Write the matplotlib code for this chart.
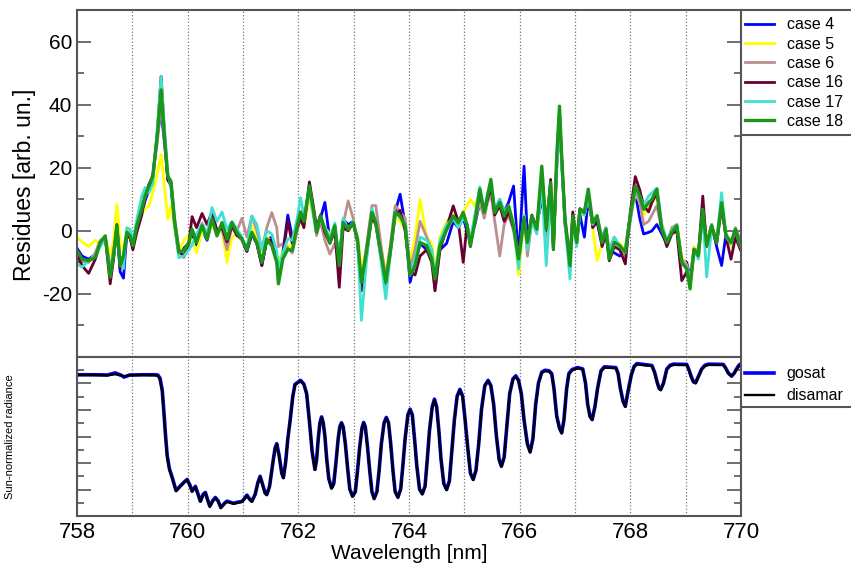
import numpy as np
import matplotlib
matplotlib.use("Agg")
import matplotlib.pyplot as plt
from matplotlib.lines import Line2D

plt.rcParams['font.family'] = ['Liberation Sans', 'DejaVu Sans']
plt.rcParams['axes.unicode_minus'] = False

# wavelength grid of the residues [nm]
wl = [758.00, 758.09, 758.21, 758.33, 758.42, 758.51, 758.60, 758.66, 758.72, 758.78,
      758.84, 758.90, 758.96, 759.01, 759.08, 759.17, 759.23, 759.30, 759.37, 759.45,
      759.52, 759.58, 759.64, 759.70, 759.76, 759.84, 759.93, 760.02, 760.08, 760.16,
      760.26, 760.35, 760.44, 760.53, 760.62, 760.71, 760.80, 760.89, 760.98, 761.07,
      761.16, 761.25, 761.34, 761.43, 761.52, 761.61, 761.64, 761.72, 761.81, 761.89,
      761.98, 762.04, 762.10, 762.20, 762.27, 762.33, 762.40, 762.48, 762.57, 762.66,
      762.74, 762.81, 762.90, 762.99, 763.07, 763.14, 763.23, 763.33, 763.40, 763.49,
      763.58, 763.66, 763.75, 763.84, 763.93, 764.02, 764.11, 764.20, 764.32, 764.41,
      764.47, 764.56, 764.68, 764.80, 764.89, 764.98, 765.05, 765.11, 765.19, 765.28,
      765.36, 765.42, 765.48, 765.55, 765.64, 765.72, 765.80, 765.89, 765.98, 766.08,
      766.14, 766.22, 766.31, 766.40, 766.48, 766.56, 766.61, 766.67, 766.72, 766.76,
      766.82, 766.91, 766.96, 767.03, 767.09, 767.17, 767.24, 767.32, 767.40, 767.49,
      767.56, 767.62, 767.71, 767.81, 767.91, 768.00, 768.09, 768.17, 768.24, 768.33,
      768.39, 768.48, 768.57, 768.66, 768.75, 768.84, 768.93, 769.02, 769.08, 769.15,
      769.23, 769.31, 769.38, 769.47, 769.56, 769.65, 769.73, 769.82, 769.90, 769.99]

case4 = [-5.5, -8.0, -9.0, -7.5, -4.0, -2.5, -13.0, -8.5, 0.5, -13.0,
         -15.0, -1.0, -2.0, -5.0, 0.5, 5.5, 9.5, 13.0, 17.0, 30.0,
         38.0, 28.0, 16.5, 14.0, 2.0, -7.5, -5.5, -4.0, -1.0, -4.5,
         0.5, -3.0, 3.0, -1.0, 1.5, -2.5, 2.0, -1.0, -3.0, -6.5,
         -1.0, -4.0, -11.0, -3.0, -2.0, -8.0, -13.0, -7.0, 5.0, -2.0,
         0.5, 5.0, 2.0, 12.0, 6.0, 0.0, 4.0, 9.0, -3.0, 0.5,
         -9.0, 3.5, 2.0, 3.0, -3.0, -15.0, -6.0, 6.0, 3.0, -5.5,
         -16.0, -6.5, 6.0, 11.6, 2.0, -16.3, -10.0, -4.0, -6.0, -9.0,
         -13.0, -6.0, -4.0, 3.0, 1.0, 4.0, 0.0, -2.0, 2.0, 9.0,
         5.0, 11.0, 13.0, 6.0, 10.0, 6.0, 9.0, 14.2, -9.0, 20.5,
         -2.0, 3.0, 2.0, 10.0, 1.0, 12.0, -4.0, 20.0, 34.0, 22.0,
         2.0, -9.0, 4.0, -3.0, 5.0, -2.0, 10.0, 2.0, 3.0, -4.0,
         -2.0, -6.0, -7.0, -8.0, -6.0, 5.0, 12.0, 4.0, -1.0, -0.5,
         0.0, 2.0, -1.0, -4.0, 0.0, 1.0, -9.0, -10.0, -15.0, -6.0,
         -7.0, 5.0, -4.0, 2.0, -5.0, -11.0, -1.0, -4.0, -1.0, -3.0]

case5 = [-2.0, -3.5, -5.0, -3.0, -4.5, -2.0, -8.0, -3.0, 8.4, -4.0,
         -6.0, 0.5, -1.0, -3.5, 3.0, 5.5, 7.0, 8.0, 12.0, 18.0,
         24.2, 14.0, 3.7, 8.0, 1.0, -7.5, -3.0, -1.5, -3.0, -7.0,
         0.0, -2.0, 2.0, -1.0, 0.5, -10.0, -2.0, -1.0, -3.0, -6.0,
         1.5, -3.0, -9.5, -2.0, -3.5, -8.0, -10.0, -6.5, -4.5, -5.5,
         0.5, 4.0, 1.0, 11.0, 5.0, 1.0, 4.0, 1.0, -1.0, 0.0,
         -9.0, 1.0, 0.0, 2.0, -2.0, -12.0, -6.0, 5.0, 2.0, -6.0,
         -13.0, -5.0, 4.0, 3.0, 0.5, -10.0, -2.0, 10.0, -2.0, -4.0,
         -12.0, -2.0, 3.0, 5.0, 3.0, 6.0, 8.0, 10.0, 8.0, 12.0,
         5.0, 10.0, 14.0, 6.0, 8.0, 5.0, 8.0, 3.0, -14.0, 3.0,
         -4.0, 4.0, 1.0, 14.0, -1.0, 13.0, -4.0, 20.0, 35.0, 22.0,
         3.0, -10.0, 5.0, -2.0, 6.0, 5.0, 12.0, 1.0, -9.5, -4.0,
         0.0, -8.0, -3.0, -4.0, -6.0, 4.0, 12.0, 9.0, 5.0, 7.0,
         9.0, 11.0, 2.0, -3.0, 0.0, 2.0, -8.0, -11.0, -16.0, -5.0,
         -8.0, 6.0, -4.0, 2.0, -3.0, 8.0, -1.0, -5.0, -2.0, -4.0]

case6 = [-7.0, -9.5, -10.0, -7.0, -3.0, -2.0, -12.0, -6.0, 1.0, -9.0,
         -8.0, 0.0, -1.0, -3.0, 2.5, 7.5, 10.5, 14.5, 18.0, 28.0,
         40.0, 29.0, 17.0, 16.0, 4.5, -5.5, -8.5, -4.5, 0.0, -2.0,
         2.5, -1.0, 5.5, 0.0, 0.5, -6.0, 1.5, 0.0, 4.0, -2.0,
         4.7, 0.0, -6.0, 1.0, 5.8, 1.0, -5.0, -4.0, -5.5, -7.0,
         0.0, 4.0, 2.0, 13.0, 6.0, -1.5, 3.0, -3.0, -7.4, -4.0,
         -10.0, 2.0, 9.5, 4.0, -4.0, -17.0, -5.0, 8.0, 8.0, -4.0,
         -15.0, -5.0, 8.0, 6.0, 4.0, -12.0, -6.0, 3.0, -2.0, -6.0,
         -19.0, -5.0, 0.0, 4.0, 2.0, 6.0, 2.0, -3.0, 3.0, 9.0,
         4.0, 9.0, 12.0, 3.0, -8.0, 2.0, 5.0, 0.0, -10.0, 5.0,
         -8.0, 3.0, 0.0, 14.0, -2.0, 12.0, -5.0, 21.0, 36.0, 22.0,
         4.0, -8.0, 5.0, -3.0, 7.0, 5.0, 11.0, 3.0, 4.0, -2.0,
         1.0, -6.0, -2.0, -5.0, -8.0, 3.0, 13.0, 9.0, 2.0, 3.0,
         5.0, 8.0, 0.0, -4.0, 1.0, 2.0, -9.0, -11.0, -16.0, -6.0,
         -6.0, 8.0, -5.0, 2.0, -4.0, 7.0, -2.0, -4.0, 1.0, -3.0]

case16 = [-7.5, -11.0, -13.5, -9.0, -4.0, -2.0, -16.8, -9.0, 2.0, -12.0,
          -8.5, -1.0, -2.5, -6.0, -0.5, 5.0, 11.0, 14.8, 17.0, 31.0,
          49.0, 31.0, 16.0, 15.0, 2.5, -6.5, -8.0, -4.0, 4.5, 1.0,
          5.5, 2.0, 6.0, 0.0, 1.0, -3.5, 1.5, -1.5, -2.5, -6.5,
          -1.0, -4.0, -11.0, -3.0, -3.0, -9.0, -15.0, -7.5, 3.0, -4.0,
          1.0, 4.0, 1.0, 15.5, 8.0, 1.0, 5.0, -0.5, -4.0, 0.0,
          -17.9, 1.0, 0.0, 2.5, -3.5, -19.0, -8.0, 4.5, 2.0, -8.0,
          -17.0, -7.5, 5.0, 6.5, 0.0, -13.0, -14.0, -8.0, -6.0, -10.0,
          -19.0, -6.0, 1.0, 7.9, 3.0, -10.0, 2.0, -5.0, 4.0, 12.0,
          6.0, 10.0, 14.0, 5.0, 8.0, 3.0, 6.0, 1.0, -7.0, 4.0,
          -3.0, 5.0, 1.0, 18.0, 0.0, 16.3, -6.0, 22.0, 38.0, 23.0,
          3.0, -11.0, 6.0, -4.0, 7.0, 6.0, 12.0, 1.0, 3.0, -5.0,
          -1.0, -9.5, -5.0, -6.0, -10.5, 6.0, 17.2, 13.0, 8.0, 6.0,
          9.0, 12.0, 0.0, -5.0, -1.0, 0.0, -15.8, -13.0, -17.0, -7.0,
          -8.0, 11.0, -5.0, 1.0, -4.0, 8.0, -2.0, -9.0, -2.0, -6.0]

case17 = [-10.5, -11.5, -9.5, -8.0, -5.0, -2.5, -12.0, -8.0, 1.0, -10.5,
          -12.0, 1.0, 0.5, -3.0, 3.5, 11.0, 13.7, 12.0, 15.0, 32.0,
          49.0, 33.0, 18.0, 14.0, 2.0, -8.5, -8.0, -6.0, -4.5, -1.0,
          2.0, -1.0, 7.4, 3.0, 6.0, 0.5, 3.0, 0.5, -2.0, -6.0,
          4.7, 2.0, -6.0, 0.0, -1.0, -6.5, -12.0, -7.0, -2.5, -3.0,
          4.0, 10.5, 5.0, 12.0, 5.0, -0.5, 4.0, 1.0, -2.0, 2.5,
          -10.0, 4.0, 0.5, 3.0, -3.0, -28.4, -10.0, 7.0, 3.0, -9.0,
          -21.6, -8.0, 6.0, 4.0, 2.0, -14.0, -9.0, -2.0, -3.0, -6.0,
          -14.0, -3.0, 2.0, 4.0, 1.0, 4.0, 2.0, -3.0, 5.0, 14.0,
          6.0, 12.0, 15.0, 7.0, 10.0, 6.0, 8.0, 2.0, -12.0, 5.0,
          -6.0, 3.0, -1.0, 15.0, -11.0, 12.0, -4.0, 20.0, 36.0, 21.0,
          2.0, -15.3, 4.0, -5.0, 6.0, 5.0, 11.0, 2.0, 5.0, -3.0,
          1.0, -7.0, -2.0, -5.0, -7.0, 5.0, 13.0, 11.0, 8.0, 11.0,
          12.0, 13.5, 2.0, -3.0, 0.0, 2.0, -10.0, -12.0, -17.0, -6.0,
          -9.0, 6.0, -14.6, 1.0, -3.0, 12.1, -2.0, -4.0, 0.0, -5.0]

case18 = [-6.3, -8.9, -9.5, -8.4, -3.7, -1.6, -14.7, -7.9, 1.6, -11.0,
          -7.9, -0.5, -1.6, -4.7, 1.6, 6.9, 11.1, 14.2, 17.4, 30.0,
          44.7, 30.0, 17.4, 15.3, 3.7, -6.8, -6.3, -3.7, 0.5, -3.7,
          1.6, -2.6, 3.7, -1.6, 2.6, -2.6, 2.6, -0.5, -2.6, -5.8,
          -0.5, -3.7, -10.0, -2.6, -4.7, -10.0, -16.8, -8.9, -5.8, -6.3,
          1.6, 6.0, 3.0, 14.2, 6.8, -0.5, 4.7, 0.5, -3.7, 1.6,
          -11.0, 2.6, 0.5, 2.6, -2.6, -16.3, -6.8, 5.8, 2.6, -6.8,
          -16.3, -6.8, 5.8, 4.7, 1.6, -14.2, -11.0, -3.7, -4.7, -8.9,
          -15.3, -4.7, 0.5, 4.7, 2.6, 5.8, 1.6, -4.7, 2.6, 13.2,
          5.8, 11.1, 16.3, 5.8, 9.0, 4.7, 7.9, 1.6, -8.9, 4.2,
          -3.7, 4.7, 0.5, 20.5, 0.5, 15.3, -5.8, 23.7, 39.5, 23.7,
          3.7, -11.1, 4.7, -3.7, 6.8, 5.8, 13.2, 2.6, 4.7, -3.7,
          0.5, -9.0, -3.7, -4.7, -6.8, 4.7, 14.2, 11.1, 6.8, 8.9,
          10.0, 13.2, 0.5, -3.7, -0.5, 1.6, -10.0, -12.1, -18.4, -5.8,
          -7.9, 6.8, -4.7, 1.6, -3.7, 8.9, -1.6, -3.7, 0.5, -4.7]

case_labels = ['case 4', 'case 5', 'case 6', 'case 16', 'case 17', 'case 18']
case_colors = ['#0000ff', '#ffff00', '#bc8f8f', '#660033', '#40e0d0', '#1a961a']

# sun-normalized radiance spectrum
wl_spec = [758.00, 758.30, 758.55, 758.69, 758.80, 758.85, 758.95, 759.20, 759.40, 759.46,
           759.50, 759.54, 759.57, 759.60, 759.63, 759.67, 759.72, 759.79, 759.86, 759.93,
           759.99, 760.04, 760.08, 760.14, 760.18, 760.23, 760.28, 760.32, 760.36, 760.40,
           760.45, 760.50, 760.55, 760.60, 760.66, 760.71, 760.77, 760.83, 760.90, 760.98,
           761.03, 761.07, 761.12, 761.16, 761.22, 761.27, 761.31, 761.35, 761.40, 761.43,
           761.48, 761.54, 761.58, 761.61, 761.65, 761.70, 761.73, 761.77, 761.81, 761.85,
           761.90, 761.94, 762.04, 762.10, 762.15, 762.20, 762.25, 762.30, 762.33, 762.36,
           762.39, 762.42, 762.45, 762.48, 762.51, 762.55, 762.60, 762.64, 762.68, 762.72,
           762.75, 762.78, 762.81, 762.85, 762.89, 762.93, 762.98, 763.03, 763.07, 763.11,
           763.15, 763.18, 763.21, 763.25, 763.29, 763.33, 763.37, 763.42, 763.46, 763.50,
           763.55, 763.59, 763.63, 763.67, 763.71, 763.75, 763.80, 763.85, 763.89, 763.93,
           763.98, 764.02, 764.06, 764.10, 764.14, 764.19, 764.24, 764.29, 764.33, 764.37,
           764.42, 764.46, 764.50, 764.54, 764.58, 764.63, 764.68, 764.73, 764.77, 764.82,
           764.87, 764.92, 764.97, 765.01, 765.06, 765.11, 765.16, 765.21, 765.26, 765.31,
           765.37, 765.43, 765.48, 765.53, 765.58, 765.63, 765.67, 765.72, 765.77, 765.82,
           765.88, 765.93, 765.98, 766.03, 766.08, 766.14, 766.19, 766.24, 766.29, 766.34,
           766.40, 766.46, 766.53, 766.58, 766.62, 766.67, 766.72, 766.76, 766.80, 766.85,
           766.89, 766.95, 767.05, 767.14, 767.19, 767.23, 767.27, 767.31, 767.36, 767.41,
           767.47, 767.53, 767.74, 767.78, 767.82, 767.87, 767.91, 767.96, 768.02, 768.07,
           768.12, 768.39, 768.44, 768.48, 768.52, 768.55, 768.60, 768.66, 768.72, 768.78,
           769.02, 769.06, 769.10, 769.14, 769.18, 769.23, 769.29, 769.35, 769.41, 769.68,
           769.72, 769.77, 769.83, 769.88, 769.92, 769.96, 770.00]

disamar = [0.532, 0.532, 0.531, 0.535, 0.530, 0.527, 0.531, 0.532, 0.531, 0.529,
           0.515, 0.470, 0.390, 0.300, 0.225, 0.175, 0.143, 0.094, 0.110, 0.125,
           0.136, 0.115, 0.092, 0.110, 0.085, 0.054, 0.080, 0.087, 0.060, 0.035,
           0.055, 0.068, 0.055, 0.030, 0.045, 0.054, 0.050, 0.046, 0.050, 0.053,
           0.065, 0.077, 0.062, 0.054, 0.080, 0.125, 0.148, 0.120, 0.085, 0.079,
           0.110, 0.200, 0.255, 0.270, 0.230, 0.160, 0.143, 0.200, 0.290, 0.356,
           0.450, 0.494, 0.509, 0.495, 0.460, 0.356, 0.240, 0.174, 0.210, 0.290,
           0.350, 0.371, 0.350, 0.300, 0.220, 0.140, 0.104, 0.120, 0.200, 0.290,
           0.335, 0.350, 0.335, 0.270, 0.180, 0.100, 0.073, 0.090, 0.170, 0.260,
           0.330, 0.350, 0.335, 0.260, 0.170, 0.090, 0.064, 0.090, 0.170, 0.270,
           0.350, 0.369, 0.350, 0.270, 0.170, 0.090, 0.069, 0.100, 0.190, 0.290,
           0.380, 0.400, 0.380, 0.290, 0.190, 0.100, 0.082, 0.110, 0.210, 0.320,
           0.410, 0.438, 0.410, 0.320, 0.210, 0.120, 0.098, 0.130, 0.230, 0.360,
           0.450, 0.475, 0.450, 0.370, 0.260, 0.160, 0.136, 0.170, 0.270, 0.400,
           0.490, 0.509, 0.490, 0.420, 0.300, 0.210, 0.186, 0.220, 0.340, 0.460,
           0.515, 0.526, 0.510, 0.460, 0.360, 0.270, 0.240, 0.290, 0.420, 0.500,
           0.540, 0.547, 0.545, 0.535, 0.480, 0.375, 0.330, 0.312, 0.360, 0.480,
           0.535, 0.550, 0.557, 0.553, 0.500, 0.419, 0.375, 0.362, 0.410, 0.482,
           0.545, 0.560, 0.558, 0.535, 0.480, 0.430, 0.412, 0.470, 0.532, 0.562,
           0.572, 0.566, 0.540, 0.507, 0.480, 0.475, 0.500, 0.553, 0.566, 0.570,
           0.570, 0.550, 0.525, 0.505, 0.501, 0.525, 0.553, 0.566, 0.570, 0.570,
           0.558, 0.538, 0.526, 0.538, 0.553, 0.565, 0.572]

gosat = [0.533, 0.533, 0.532, 0.540, 0.531, 0.524, 0.532, 0.533, 0.533, 0.532,
         0.520, 0.475, 0.394, 0.303, 0.228, 0.178, 0.146, 0.096, 0.112, 0.127,
         0.138, 0.117, 0.094, 0.112, 0.087, 0.056, 0.082, 0.089, 0.062, 0.037,
         0.057, 0.070, 0.057, 0.032, 0.047, 0.056, 0.052, 0.048, 0.052, 0.055,
         0.067, 0.079, 0.064, 0.056, 0.082, 0.127, 0.150, 0.122, 0.087, 0.081,
         0.112, 0.202, 0.257, 0.273, 0.232, 0.162, 0.145, 0.202, 0.292, 0.358,
         0.452, 0.497, 0.512, 0.498, 0.462, 0.358, 0.242, 0.176, 0.212, 0.292,
         0.352, 0.374, 0.352, 0.302, 0.222, 0.142, 0.106, 0.122, 0.202, 0.292,
         0.337, 0.352, 0.337, 0.272, 0.182, 0.102, 0.075, 0.092, 0.172, 0.262,
         0.332, 0.353, 0.337, 0.262, 0.172, 0.092, 0.066, 0.092, 0.172, 0.272,
         0.352, 0.372, 0.352, 0.272, 0.172, 0.092, 0.071, 0.102, 0.192, 0.292,
         0.382, 0.403, 0.382, 0.292, 0.192, 0.102, 0.084, 0.112, 0.212, 0.322,
         0.412, 0.441, 0.412, 0.322, 0.212, 0.122, 0.100, 0.132, 0.232, 0.362,
         0.452, 0.478, 0.452, 0.372, 0.262, 0.162, 0.138, 0.172, 0.272, 0.402,
         0.492, 0.512, 0.492, 0.422, 0.302, 0.212, 0.188, 0.222, 0.342, 0.462,
         0.518, 0.529, 0.512, 0.462, 0.362, 0.272, 0.242, 0.292, 0.422, 0.502,
         0.543, 0.550, 0.548, 0.537, 0.482, 0.377, 0.332, 0.314, 0.362, 0.482,
         0.538, 0.553, 0.560, 0.555, 0.502, 0.421, 0.377, 0.364, 0.412, 0.484,
         0.548, 0.563, 0.560, 0.537, 0.482, 0.432, 0.414, 0.472, 0.534, 0.565,
         0.575, 0.568, 0.542, 0.509, 0.482, 0.477, 0.502, 0.555, 0.569, 0.573,
         0.572, 0.552, 0.527, 0.507, 0.503, 0.527, 0.555, 0.569, 0.573, 0.572,
         0.560, 0.540, 0.528, 0.540, 0.555, 0.568, 0.575]

spine_col = '#555555'

fig = plt.figure(figsize=(8.51, 5.69), dpi=100)
ax1 = fig.add_axes([0.0905, 0.3726, 0.7802, 0.6098])
ax2 = fig.add_axes([0.0905, 0.0931, 0.7802, 0.2795])

# --- residues ---
series = [case4, case5, case6, case16, case17, case18]
for i in range(len(series)):
    lw = 2.4 if i == 5 else 2.0
    ax1.plot(wl, series[i], color=case_colors[i], lw=lw, label=case_labels[i])

ax1.set_xlim(758, 770)
ax1.set_ylim(-40, 70)
ax1.set_yticks([-20, 0, 20, 40, 60])
ax1.yaxis.set_minor_locator(plt.MultipleLocator(10))
ax1.set_xticks(np.arange(759, 770, 1))
ax1.tick_params(axis='x', length=0, labelbottom=False)
ax1.tick_params(axis='y', which='both', direction='in', left=True, right=True,
                labelsize=15, color=spine_col, width=1.2)
ax1.tick_params(axis='y', which='major', length=10)
ax1.tick_params(axis='y', which='minor', length=5)
ax1.grid(axis='x', linestyle=':', color='#777777', lw=0.9)
fig.text(0.029, 0.675, 'Residues [arb. un.]', rotation=90, ha='center', va='center', fontsize=16.5)

# --- spectrum ---
ax2.plot(wl_spec, gosat, color='#0000ff', lw=2.6, label='gosat')
ax2.plot(wl_spec, disamar, color='black', lw=1.7, label='disamar')
ax2.set_xlim(758, 770)
ax2.set_ylim(0, 0.6)
ax2.yaxis.set_major_locator(plt.MultipleLocator(0.1))
ax2.yaxis.set_minor_locator(plt.MultipleLocator(0.05))
ax2.set_xticks(np.arange(758, 771, 2))
ax2.set_xticks(np.arange(759, 770, 1), minor=True)
ax2.tick_params(axis='x', which='both', length=0, labelsize=16, pad=4)
ax2.tick_params(axis='y', which='both', direction='in', left=True, right=True,
                labelleft=False, color=spine_col, width=1.2)
ax2.tick_params(axis='y', which='major', length=10)
ax2.tick_params(axis='y', which='minor', length=5)
ax2.grid(axis='x', which='both', linestyle=':', color='#777777', lw=0.9)
ax2.set_xlabel('Wavelength [nm]', fontsize=15, labelpad=1)
fig.text(0.012, 0.233, 'Sun-normalized radiance', rotation=90, ha='center', va='center', fontsize=8)

for ax in (ax1, ax2):
    for s in ax.spines.values():
        s.set_color(spine_col)
        s.set_linewidth(1.5)

# legends sit outside, right of the axes
ax1.legend(loc='upper left', bbox_to_anchor=(0.872, 0.975), bbox_transform=fig.transFigure,
           frameon=False, fontsize=11.5, handlelength=1.8, handletextpad=0.8,
           labelspacing=0.27, borderpad=0.2, borderaxespad=0)
ax2.legend(loc='upper left', bbox_to_anchor=(0.872, 0.362), bbox_transform=fig.transFigure,
           frameon=False, fontsize=11.5, handlelength=1.8, handletextpad=0.8,
           labelspacing=0.45, borderpad=0.2, borderaxespad=0)
for yy in [1 - 10 / 569, 1 - 135 / 569, 1 - 407 / 569]:
    fig.add_artist(Line2D([0.8707, 1.0], [yy, yy], color=spine_col, lw=1.5))

plt.savefig('out.png', dpi=100)
